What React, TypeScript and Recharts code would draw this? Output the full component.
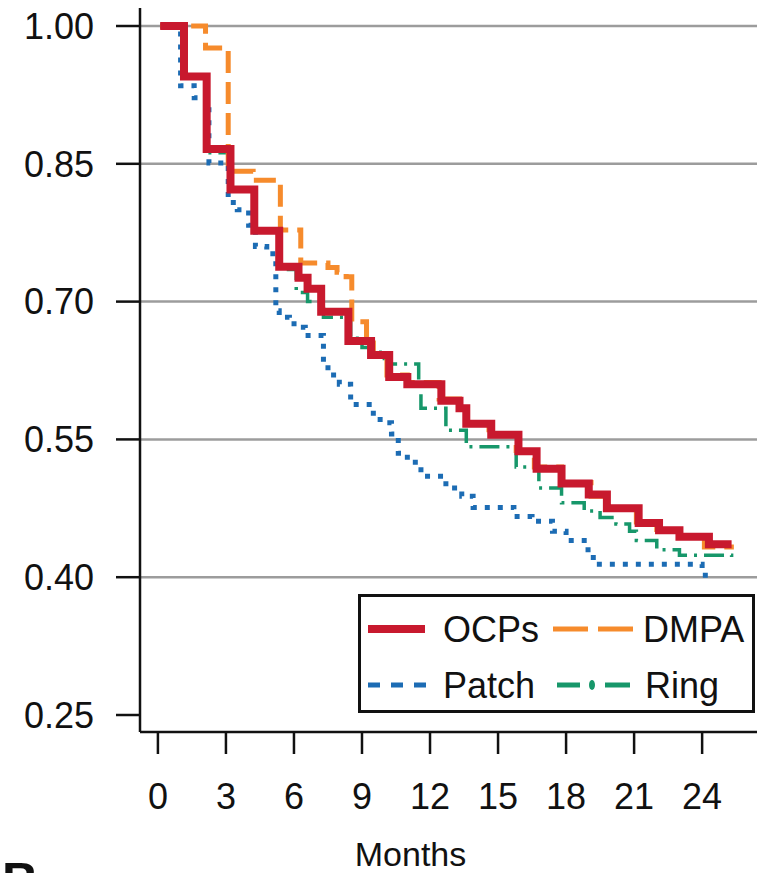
import { Legend, Line, LineChart, ReferenceLine, XAxis, YAxis } from "recharts"

const FONT = '"Liberation Sans", Arial, Helvetica, sans-serif'

const RED = "#C8192E"
const ORANGE = "#F68B2C"
const BLUE = "#1C6CB4"
const GREEN = "#17976A"

const monthTicks = [0, 3, 6, 9, 12, 15, 18, 21, 24]
const survTicks = [0.25, 0.4, 0.55, 0.7, 0.85, 1.0]
const gridValues = [0.4, 0.55, 0.7, 0.85, 1.0]

// [month, proportion continuing] — step changes
const ocps: [number, number][] = [
  [0.1, 1.0], [1.15, 0.945], [2.15, 0.866], [3.2, 0.822], [4.25, 0.777],
  [5.35, 0.738], [6.2, 0.726], [6.6, 0.714], [7.2, 0.689], [8.4, 0.657],
  [9.4, 0.642], [10.2, 0.618], [11.0, 0.61], [12.5, 0.592], [13.3, 0.584],
  [13.6, 0.567], [14.7, 0.555], [15.9, 0.537], [16.7, 0.518], [17.8, 0.502],
  [19.0, 0.49], [19.8, 0.475], [21.2, 0.459], [22.1, 0.451], [23.0, 0.444],
  [24.3, 0.436], [25.3, 0.436],
]

const dmpa: [number, number][] = [
  [0.1, 1.0], [2.1, 0.976], [3.1, 0.842], [4.2, 0.832], [5.4, 0.778],
  [6.3, 0.742], [7.5, 0.737], [7.9, 0.732], [8.3, 0.727], [8.55, 0.678],
  [9.2, 0.655], [9.5, 0.642], [10.1, 0.62], [11.0, 0.612], [12.4, 0.594],
  [13.3, 0.583], [13.6, 0.568], [14.6, 0.556], [15.8, 0.538], [16.6, 0.52],
  [17.8, 0.503], [19.1, 0.488], [19.8, 0.476], [21.1, 0.46], [22.0, 0.452],
  [23.0, 0.444], [24.1, 0.433], [25.4, 0.433],
]

const patch: [number, number][] = [
  [0.1, 1.0], [1.0, 0.935], [1.6, 0.922], [2.1, 0.915], [2.25, 0.851],
  [3.1, 0.808], [3.5, 0.8], [4.0, 0.783], [4.3, 0.76], [4.8, 0.752],
  [5.2, 0.69], [5.35, 0.683], [5.8, 0.676], [6.3, 0.672], [6.5, 0.663],
  [7.3, 0.632], [7.5, 0.62], [8.0, 0.61], [8.5, 0.588], [9.5, 0.575],
  [9.8, 0.568], [10.3, 0.556], [10.6, 0.535], [11.0, 0.525], [11.6, 0.51],
  [12.7, 0.497], [13.4, 0.488], [13.9, 0.476], [15.7, 0.466], [16.5, 0.461],
  [17.4, 0.45], [18.0, 0.44], [18.8, 0.43], [19.2, 0.414], [24.0, 0.402],
  [24.3, 0.402],
]

const ring: [number, number][] = [
  [0.1, 1.0], [1.15, 0.945], [2.2, 0.862], [3.2, 0.82], [4.25, 0.776],
  [5.4, 0.735], [6.1, 0.71], [6.6, 0.7], [7.3, 0.683], [8.5, 0.66],
  [9.0, 0.65], [9.4, 0.645], [9.8, 0.638], [10.2, 0.632], [11.5, 0.615],
  [11.6, 0.584], [12.7, 0.56], [13.6, 0.542], [15.8, 0.52], [16.8, 0.497],
  [17.8, 0.481], [18.8, 0.472], [19.5, 0.465], [20.2, 0.458], [20.8, 0.45],
  [21.1, 0.44], [22.0, 0.43], [23.0, 0.424], [25.3, 0.422],
]

const toRows = (pts: [number, number][]) => pts.map(([m, s]) => ({ m, s }))

/** boxed key in the lower right, drawn like the R original */
function KeyBox() {
  const txt = { fontSize: 36, fontFamily: FONT, fill: "#111" }
  return (
    <svg width={397} height={119} style={{ display: "block" }}>
      <rect x={1.5} y={1.5} width={394} height={116} fill="#fff" stroke="#111" strokeWidth={3} />
      <line x1={10} x2={67} y1={35} y2={35} stroke={RED} strokeWidth={8} />
      <text x={85} y={48} {...txt}>OCPs</text>
      <line x1={195} x2={275} y1={35} y2={35} stroke={ORANGE} strokeWidth={5} strokeDasharray="35 10" />
      <text x={285} y={48} {...txt}>DMPA</text>
      <line x1={10} x2={70} y1={91} y2={91} stroke={BLUE} strokeWidth={5} strokeDasharray="12 11" />
      <text x={85} y={104} {...txt}>Patch</text>
      <line x1={199} x2={222} y1={91} y2={91} stroke={GREEN} strokeWidth={5} />
      <ellipse cx={234} cy={91} rx={3} ry={5} fill={GREEN} />
      <line x1={247} x2={272} y1={91} y2={91} stroke={GREEN} strokeWidth={5} />
      <text x={287} y={104} {...txt}>Ring</text>
    </svg>
  )
}

export default function App() {
  const tick = { fontSize: 36, fill: "#111", fontFamily: FONT }
  return (
    <div style={{ position: "relative", width: 760, height: 873, overflow: "hidden", background: "#fff" }}>
      <style>{`body{margin:0}`}</style>
      <LineChart width={760} height={873} margin={{ top: 8, right: 3, bottom: 0, left: 0 }}>
        <XAxis
          type="number"
          dataKey="m"
          domain={[-0.79, 26.42]}
          ticks={monthTicks}
          allowDataOverflow
          height={141}
          axisLine={{ stroke: "#111", strokeWidth: 2.5 }}
          tickLine={{ stroke: "#111", strokeWidth: 2.5 }}
          tickSize={22}
          tickMargin={29}
          tick={tick}
          label={{
            value: "Months",
            position: "insideBottom",
            offset: 7,
            dx: -38,
            fontSize: 34,
            fill: "#111",
            fontFamily: FONT,
          }}
        />
        <YAxis
          type="number"
          domain={[0.2315, 1.0196]}
          ticks={survTicks}
          allowDataOverflow
          width={140}
          axisLine={{ stroke: "#111", strokeWidth: 2.5 }}
          tickLine={{ stroke: "#111", strokeWidth: 2.5 }}
          tickSize={24}
          tickMargin={22}
          tick={tick}
          tickFormatter={(v: number) => v.toFixed(2)}
        />
        {gridValues.map((v) => (
          <ReferenceLine key={v} y={v} stroke="#9c9c9c" strokeWidth={2.5} />
        ))}
        <Line
          data={toRows(patch)}
          dataKey="s"
          type="stepAfter"
          stroke={BLUE}
          strokeWidth={5}
          strokeDasharray="5 8"
          dot={false}
          isAnimationActive={false}
        />
        <Line
          data={toRows(ring)}
          dataKey="s"
          type="stepAfter"
          stroke={GREEN}
          strokeWidth={3.5}
          strokeDasharray="20 7 3 7"
          dot={false}
          isAnimationActive={false}
        />
        <Line
          data={toRows(dmpa)}
          dataKey="s"
          type="stepAfter"
          stroke={ORANGE}
          strokeWidth={5}
          strokeDasharray="22 9"
          dot={false}
          isAnimationActive={false}
        />
        <Line
          data={toRows(ocps)}
          dataKey="s"
          type="stepAfter"
          stroke={RED}
          strokeWidth={8}
          dot={false}
          isAnimationActive={false}
        />
        <Legend
          layout="vertical"
          align="center"
          verticalAlign="middle"
          content={() => <KeyBox />}
          wrapperStyle={{ left: 358, top: 594, width: 397, height: 119 }}
        />
      </LineChart>
      <div
        style={{
          position: "absolute",
          left: 2,
          top: 856,
          fontSize: 50,
          fontWeight: "bold",
          fontFamily: FONT,
          lineHeight: 1,
          color: "#111",
        }}
      >
        B
      </div>
    </div>
  )
}
